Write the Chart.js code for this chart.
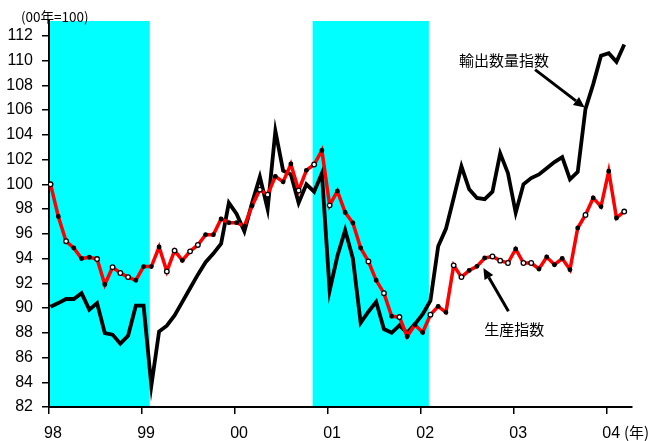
<!DOCTYPE html>
<html><head><meta charset="utf-8">
<script src="https://cdn.jsdelivr.net/npm/chart.js@4.4.1/dist/chart.umd.min.js"></script>
<style>html,body{margin:0;padding:0;background:#fff;}#wrap{width:649px;height:441px;}</style>
</head><body><div id="wrap"><canvas id="c" width="649" height="441"></canvas></div>
<script>
// x positions are months counted from January 1998
const yearLabels = ['98', '99', '00', '01', '02', '03', '04'];
const yTicks = [82, 84, 86, 88, 90, 92, 94, 96, 98, 100, 102, 104, 106, 108, 110, 112];

// 生産指数 (monthly, 98/1 - 04/3)
const production = [
  100.0, 97.4, 95.4, 94.85, 94.0, 94.1, 93.96, 91.9, 93.3, 92.83, 92.5, 92.24,
  93.35, 93.35, 94.93, 92.96, 94.64, 93.85, 94.58, 95.1, 95.93, 95.93, 97.2, 96.9,
  96.9, 96.62, 98.27, 99.57, 99.16, 100.64, 100.2, 101.64, 99.5, 101.13, 101.6, 102.74,
  98.3, 99.45, 97.73, 96.87, 94.85, 93.77, 92.24, 91.2, 89.33, 89.27, 87.7, 88.65,
  88.03, 89.46, 90.13, 89.65, 93.45, 92.5, 93.04, 93.37, 94.04, 94.17, 93.83, 93.64,
  94.77, 93.64, 93.64, 93.16, 94.12, 93.5, 94.0, 93.1, 96.47, 97.52, 98.9, 98.2,
  101.05, 97.28, 97.8
];

// 輸出数量指数 (monthly, 98/1 - 04/3)
const exportVolume = [
  90.1, 90.4, 90.73, 90.73, 91.2, 89.87, 90.4, 87.98, 87.85, 87.12, 87.76, 90.19,
  90.19, 83.72, 88.1, 88.57, 89.4, 90.5, 91.6, 92.7, 93.7, 94.4, 95.2, 98.5,
  97.6, 96.2, 98.5, 100.6, 98.0, 104.3, 101.1, 100.8, 98.5, 100.0, 99.4, 100.9,
  91.4, 94.2, 96.3, 94.0, 88.8, 89.7, 90.5, 88.3, 88.0, 88.6, 88.0, 88.7,
  89.5, 90.6, 95.0, 96.4, 98.9, 101.45, 99.6, 98.9, 98.8, 99.4, 102.5, 100.9,
  97.7, 100.0, 100.5, 100.8, 101.3, 101.8, 102.2, 100.4, 101.0, 106.1, 108.1, 110.4,
  110.6, 109.9, 111.3
];

// shaded periods (month index from, to)
const recessions = [[0, 13], [34, 49]];

// style: which production markers are drawn hollow
const hollowMarkers = [0, 2, 6, 8, 9, 10, 15, 16, 18, 19, 27, 28, 32, 34, 36, 41, 43, 45, 49, 52, 53, 57, 58, 59, 61, 62, 69, 74];

const POINT_SHIFT = 0.2; // points sit slightly after the year tick

const prodData = production.map((v, i) => ({ x: i + POINT_SHIFT, y: v }));
const expData = exportVolume.map((v, i) => ({ x: i + POINT_SHIFT, y: v }));
const prodPointBg = production.map((v, i) => hollowMarkers.includes(i) ? '#ffffff' : '#000000');
const prodPointR = production.map((v, i) => hollowMarkers.includes(i) ? 2.3 : 1.8);

const FONT = '"Liberation Sans", Arial, sans-serif';
const JFONT = '"Noto Sans CJK JP", "Liberation Sans", sans-serif';

function arrow(ctx, x1, y1, x2, y2) {
  const ang = Math.atan2(y2 - y1, x2 - x1);
  const hl = 11, hw = 5;
  const bx = x2 - hl * Math.cos(ang), by = y2 - hl * Math.sin(ang);
  ctx.save();
  ctx.strokeStyle = '#000'; ctx.fillStyle = '#000'; ctx.lineWidth = 3;
  ctx.beginPath(); ctx.moveTo(x1, y1); ctx.lineTo(bx, by); ctx.stroke();
  ctx.beginPath();
  ctx.moveTo(x2, y2);
  ctx.lineTo(bx + hw * Math.sin(ang), by - hw * Math.cos(ang));
  ctx.lineTo(bx - hw * Math.sin(ang), by + hw * Math.cos(ang));
  ctx.closePath(); ctx.fill();
  ctx.restore();
}

const decor = {
  id: 'decor',
  beforeDraw(chart) {
    const { ctx, chartArea, scales } = chart;
    ctx.save();
    ctx.fillStyle = '#00ffff';
    recessions.forEach(([a, b]) => {
      const x1 = scales.x.getPixelForValue(a), x2 = scales.x.getPixelForValue(b);
      ctx.fillRect(x1, chartArea.top, x2 - x1, chartArea.bottom - chartArea.top);
    });
    ctx.restore();
  },
  afterDraw(chart) {
    const { ctx, scales } = chart;
    const X = v => scales.x.getPixelForValue(v), Y = v => scales.y.getPixelForValue(v);
    ctx.save();
    ctx.fillStyle = '#000';
    ctx.font = '13.5px ' + JFONT;
    ctx.textAlign = 'left'; ctx.textBaseline = 'middle';
    ctx.fillText('(00年=100)', 21, 17);
    ctx.font = '15px ' + JFONT;
    ctx.fillText('(年)', 624, 432);
    ctx.textAlign = 'center';
    ctx.fillText('輸出数量指数', X(58.7), Y(110.0));
    ctx.fillText('生産指数', X(60.0), Y(88.3));
    ctx.restore();
    arrow(ctx, X(62.7), Y(109.27), X(69 + POINT_SHIFT - 0.1), Y(exportVolume[69] + 0.1));
    arrow(ctx, X(59.26), Y(89.73), X(56.03), Y(93.24));
  }
};

new Chart(document.getElementById('c'), {
  type: 'line',
  data: {
    datasets: [
      {
        label: '生産指数', data: prodData, borderColor: '#ff0000', borderWidth: 3.5,
        pointRadius: prodPointR, pointBorderWidth: 1.3, pointBorderColor: '#000000',
        pointBackgroundColor: prodPointBg, tension: 0, order: 0
      },
      {
        label: '輸出数量指数', data: expData, borderColor: '#000000', borderWidth: 3.8,
        pointRadius: 0, tension: 0, order: 1
      }
    ]
  },
  options: {
    responsive: false, animation: false, devicePixelRatio: 1,
    layout: { padding: { left: 0, right: 17, top: 21, bottom: 0 } },
    plugins: { legend: { display: false }, tooltip: { enabled: false } },
    scales: {
      x: {
        type: 'linear', min: 0, max: 75.2,
        afterBuildTicks: s => { s.ticks = yearLabels.map((l, k) => ({ value: k * 12 })); },
        afterFit: s => { s.height = 34; },
        ticks: {
          callback: v => yearLabels[Math.round(v / 12)], autoSkip: false, maxRotation: 0,
          color: '#000', font: { family: FONT, size: 16 }, padding: 10, labelOffset: 4
        },
        grid: { drawOnChartArea: false, tickLength: 7, color: '#000', lineWidth: 1.5 },
        border: { color: '#000', width: 2 }
      },
      y: {
        min: 82, max: 113.2,
        afterBuildTicks: s => { s.ticks = yTicks.map(v => ({ value: v })); },
        afterFit: s => { s.width = 49; },
        ticks: { color: '#000', font: { family: FONT, size: 16 }, padding: 9 },
        grid: { drawOnChartArea: false, tickLength: 7, color: '#000', lineWidth: 1.5 },
        border: { color: '#000', width: 2 }
      }
    }
  },
  plugins: [decor]
});
</script>
</body></html>
